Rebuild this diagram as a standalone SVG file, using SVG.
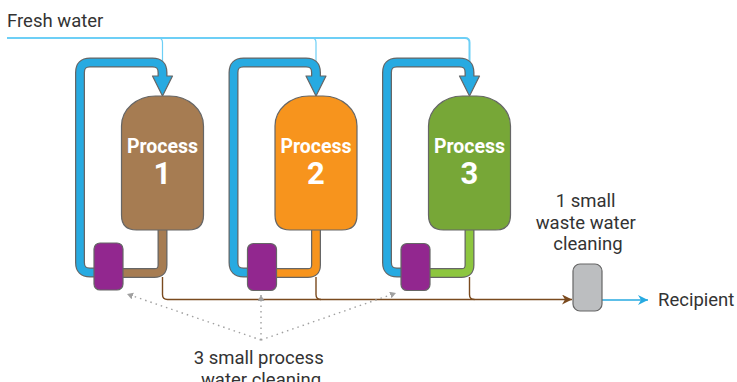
<svg xmlns="http://www.w3.org/2000/svg" width="737" height="382" viewBox="0 0 737 382">
  <style>
    .label { font-family: Roboto, "Liberation Sans", sans-serif; font-size: 18.5px; fill: #333333; }
    .tank-title { font-family: Roboto, "Liberation Sans", sans-serif; font-weight: bold; fill: #ffffff; text-anchor: middle; }
    .tank { stroke: #666666; stroke-width: 1.2; }
    .pipe-edge { fill: none; stroke: #666666; stroke-width: 10; stroke-linejoin: round; }
    .pipe-core { fill: none; stroke-width: 7.5; stroke-linejoin: round; }
    .supply { fill: none; stroke: #6dcff6; }
    .drain { fill: none; stroke: #7a4a1e; stroke-width: 1.4; }
    .hint { fill: none; stroke: #a0a0a0; stroke-width: 1.4; stroke-dasharray: 1.5 4; }
    .box { stroke: #666666; stroke-width: 1.2; }
  </style>
  <defs>
    <marker id="arrow-brown" markerUnits="userSpaceOnUse" markerWidth="12" markerHeight="10" refX="10" refY="5" orient="auto">
      <path d="M0,0 L10,5 L0,10 L3,5 Z" fill="#7a4a1e"/>
    </marker>
    <marker id="arrow-blue" markerUnits="userSpaceOnUse" markerWidth="12" markerHeight="10" refX="10" refY="5" orient="auto">
      <path d="M0,0 L10,5 L0,10 L3,5 Z" fill="#27aae1"/>
    </marker>
    <marker id="arrow-gray" markerUnits="userSpaceOnUse" markerWidth="8" markerHeight="8" refX="6" refY="3.5" orient="auto">
      <path d="M0,0 L6,3.5 L0,7 Z" fill="#a0a0a0"/>
    </marker>
    <!-- recirculation loop and inlet arrow for one process unit, centred on x=0 -->
    <g id="loop">
      <path class="pipe-edge" d="M-66,272.5 H-72.5 Q-82.5,272.5 -82.5,262.5 V72.5 Q-82.5,62.5 -72.5,62.5 H-10 Q0,62.5 0,72.5 V78"/>
      <path d="M-10,76 H10 L0,96 Z" fill="#27aae1" stroke="#666666" stroke-width="1.2" stroke-linejoin="round"/>
      <path class="pipe-core" stroke="#27aae1" d="M-66,272.5 H-72.5 Q-82.5,272.5 -82.5,262.5 V72.5 Q-82.5,62.5 -72.5,62.5 H-10 Q0,62.5 0,72.5 V80"/>
    </g>
    <path id="outflow" d="M0,228 V265 Q0,273 -8,273 H-45"/>
    <path id="tank-shape" d="M-41,126 A34,30 0 0 1 -7,96 H7 A34,30 0 0 1 41,126 V215 Q41,230 26,230 H-26 Q-41,230 -41,215 Z"/>
  </defs>

  <text class="label" x="7" y="27">Fresh water</text>

  <g id="connectors">
    <!-- fresh water supply -->
    <path class="supply" stroke-width="2" d="M7,38 H465 Q469.5,38 469.5,42.5 V62"/>
    <path class="supply" stroke-width="1.2" d="M158,38 Q162.5,38 162.5,42.5 V62"/>
    <path class="supply" stroke-width="1.2" d="M311.5,38 Q316,38 316,42.5 V62"/>

    <!-- recirculation loops -->
    <use href="#loop" transform="translate(162.5,0)"/>
    <use href="#loop" transform="translate(316,0)"/>
    <use href="#loop" transform="translate(469.5,0)"/>

    <!-- tank outlets to the process water cleaners -->
    <g transform="translate(162.5,0)">
      <use href="#outflow" class="pipe-edge"/>
      <use href="#outflow" class="pipe-core" stroke="#a67c52"/>
    </g>
    <g transform="translate(316,0)">
      <use href="#outflow" class="pipe-edge"/>
      <use href="#outflow" class="pipe-core" stroke="#f7941d"/>
    </g>
    <g transform="translate(469.5,0)">
      <use href="#outflow" class="pipe-edge"/>
      <use href="#outflow" class="pipe-core" stroke="#8dc63f"/>
    </g>

    <!-- waste water collection -->
    <path class="drain" d="M162.5,277 V294.5 Q162.5,299.5 167.5,299.5 H572" marker-end="url(#arrow-brown)"/>
    <path class="drain" stroke="#b09a82" d="M316,277 V294.5 Q316,299.5 321,299.5"/>
    <path class="drain" stroke="#9a7552" d="M469.5,277 V294.5 Q469.5,299.5 474.5,299.5"/>

    <!-- to recipient -->
    <path d="M602,300 H648" fill="none" stroke="#27aae1" stroke-width="1.4" marker-end="url(#arrow-blue)"/>

    <!-- label pointers -->
    <path class="hint" d="M261,340 L127,294" marker-end="url(#arrow-gray)"/>
    <path class="hint" d="M261,340 L261,295" marker-end="url(#arrow-gray)"/>
    <path class="hint" d="M261,340 L396,293" marker-end="url(#arrow-gray)"/>
  </g>

  <g id="process-1" transform="translate(162.5,0)">
    <use href="#tank-shape" class="tank" fill="#a67c52"/>
    <text class="tank-title" x="0" y="153" font-size="19.5">Process</text>
    <text class="tank-title" x="0" y="184" font-size="31">1</text>
  </g>
  <g id="process-2" transform="translate(316,0)">
    <use href="#tank-shape" class="tank" fill="#f7941d"/>
    <text class="tank-title" x="0" y="153" font-size="19.5">Process</text>
    <text class="tank-title" x="0" y="184" font-size="31">2</text>
  </g>
  <g id="process-3" transform="translate(469.5,0)">
    <use href="#tank-shape" class="tank" fill="#77a737"/>
    <text class="tank-title" x="0" y="153" font-size="19.5">Process</text>
    <text class="tank-title" x="0" y="184" font-size="31">3</text>
  </g>

  <g id="cleaner-1">
    <rect class="box" x="94" y="243" width="29" height="47" rx="6" fill="#92278f"/>
  </g>
  <g id="cleaner-2">
    <rect class="box" x="247.5" y="243.5" width="29" height="47" rx="6" fill="#92278f"/>
  </g>
  <g id="cleaner-3">
    <rect class="box" x="401" y="243.5" width="29" height="47" rx="6" fill="#92278f"/>
  </g>

  <g id="waste-cleaner">
    <rect class="box" x="573" y="264" width="29" height="47" rx="7" fill="#bcbec0"/>
    <text class="label" text-anchor="middle">
      <tspan x="588" y="207">1 small</tspan>
      <tspan x="588" y="229">waste water</tspan>
      <tspan x="588" y="250">cleaning</tspan>
    </text>
  </g>

  <g id="recipient">
    <text class="label" x="658" y="306">Recipient</text>
  </g>

  <g id="process-cleaning-label">
    <text class="label" text-anchor="middle">
      <tspan x="261" y="364">3 small process</tspan>
      <tspan x="261" y="386">water cleaning</tspan>
    </text>
  </g>
</svg>
